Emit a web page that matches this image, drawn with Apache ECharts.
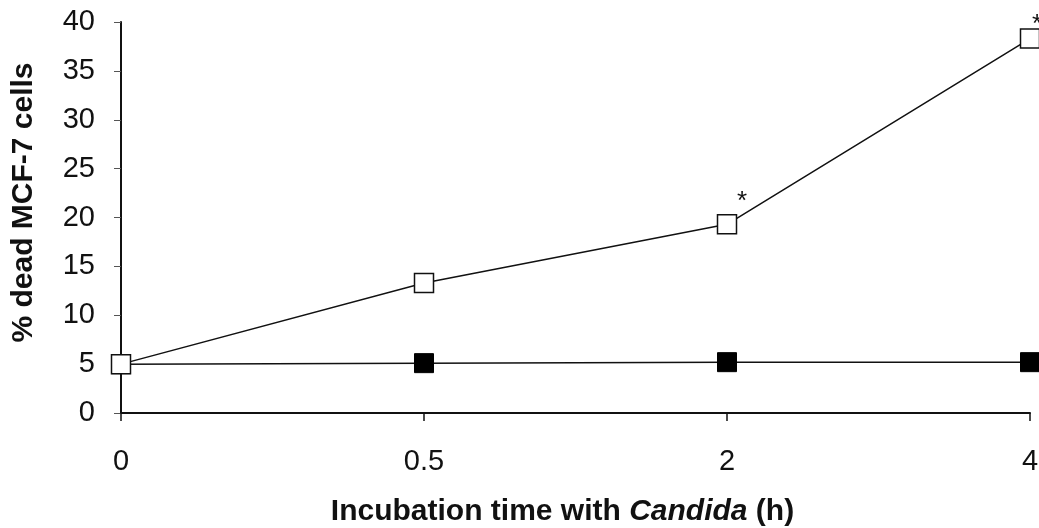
<!DOCTYPE html>
<html lang="en">
<head>
  <meta charset="UTF-8" />
  <title>Dead MCF-7 cells vs incubation time</title>
  <script src="https://cdn.jsdelivr.net/npm/echarts@6/dist/echarts.min.js"></script>
  <style>
    body { margin: 0; padding: 0; background: #fff; }
    #chart { width: 1039px; height: 528px; }
  </style>
</head>
<body>
  <div id="chart"></div>
  <script>
    const times = ["0", "0.5", "2", "4"];
    const withCandida = [5.0, 13.3, 19.3, 38.3];
    const control = [5.0, 5.1, 5.2, 5.2];
    const stars = ["", "", "*", "*"];

    // where each asterisk sits relative to its marker
    const starOffsets = [[0, 0], [0, 0], [15, 6], [7, 14]];

    const chart = echarts.init(document.getElementById("chart"));
    const font = "'Liberation Sans', Arial, sans-serif";

    chart.setOption({
      animation: false,
      grid: { left: 121, right: 9, top: 22, bottom: 115, outerBoundsMode: "none", containLabel: false },
      xAxis: {
        type: "category",
        data: times,
        boundaryGap: false,
        name: "{b|Incubation time with }{i|Candida}{b| (h)}",
        nameLocation: "middle",
        nameGap: 84,
        nameTextStyle: {
          padding: [0, 26, 0, 0],
          rich: {
            b: { fontFamily: font, fontSize: 30, fontWeight: "bold", color: "#111" },
            i: { fontFamily: font, fontSize: 30, fontWeight: "bold", fontStyle: "italic", color: "#111" }
          }
        },
        axisLine: { lineStyle: { color: "#111", width: 2 } },
        axisTick: { show: true, alignWithLabel: true, length: 8, lineStyle: { color: "#111", width: 1.5 } },
        axisLabel: { fontFamily: font, fontSize: 29, color: "#111", margin: 34 },
        splitLine: { show: false }
      },
      yAxis: {
        type: "value",
        min: 0,
        max: 40,
        interval: 5,
        name: "% dead MCF-7 cells",
        nameLocation: "middle",
        nameGap: 82,
        nameTextStyle: { fontFamily: font, fontSize: 30, fontWeight: "bold", color: "#111", padding: [0, 0, 0, 30] },
        axisLine: { show: true, lineStyle: { color: "#111", width: 2 } },
        axisTick: { show: true, length: 7, lineStyle: { color: "#555", width: 1 } },
        axisLabel: { fontFamily: font, fontSize: 29, color: "#111", margin: 26 },
        splitLine: { show: false }
      },
      series: [
        {
          name: "Control",
          type: "line",
          data: control,
          symbol: "rect",
          symbolSize: 19,
          itemStyle: { color: "#000", borderColor: "#000" },
          lineStyle: { color: "#111", width: 1.5 },
          z: 2
        },
        {
          name: "Candida",
          type: "line",
          data: withCandida.map((v, i) => ({
            value: v,
            label: {
              show: stars[i] !== "",
              formatter: stars[i],
              position: "top",
              offset: starOffsets[i],
              fontFamily: font,
              fontSize: 26,
              color: "#111"
            }
          })),
          symbol: "rect",
          symbolSize: 19,
          itemStyle: { color: "#fff", borderColor: "#111", borderWidth: 1.5 },
          lineStyle: { color: "#111", width: 1.5 },
          z: 3
        }
      ]
    });
  </script>
</body>
</html>
